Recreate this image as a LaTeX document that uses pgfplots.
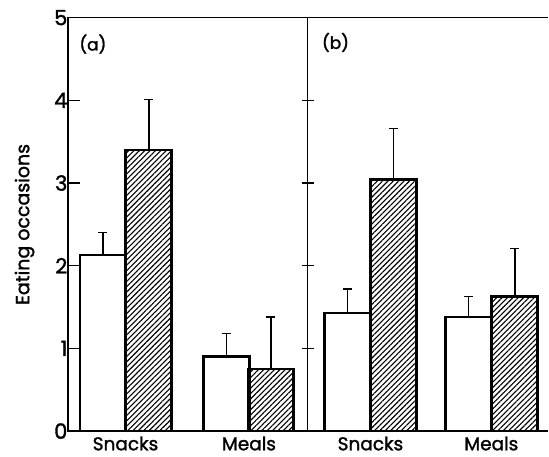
\documentclass[border=0pt]{standalone}
\usepackage{fontspec}
\setmainfont{Poppins}[FakeBold=1.5]
\usepackage{pgfplots}
\pgfplotsset{compat=1.18}
\usetikzlibrary{patterns.meta}
\begin{document}
\begin{tikzpicture}[x=1pt,y=1pt]
\path (-68,-25.3) rectangle (481,431.7);
\pgfplotsset{
  panel/.style={
    scale only axis, width=240pt, height=414pt,
    xmin=0, xmax=240, ymin=0, ymax=5,
    ybar, bar width=46, bar shift=0pt,
    tick style={black, line width=1.4pt},
    major tick length=12pt,
    ytick={0,1,2,3,4,5},
    tick align=inside,
    ytick pos=left,
    xtick style={draw=none},
    axis line style={line width=1.6pt, -},
    clip=false,
    xticklabel style={font=\fontsize{18.5}{18.5}\selectfont, yshift=-2pt},
    yticklabel style={font=\fontsize{21}{21}\selectfont, xshift=3pt},
    /pgf/number format/assume math mode=true,
    error bars/y dir=plus, error bars/y explicit,
    error bars/error bar style={line width=1.5pt, black},
    error bars/error mark options={rotate=90, mark size=4.5pt, line width=1.5pt},
  },
  whitebar/.style={draw=black, fill=white, line width=2.4pt},
  hatchbar/.style={draw=black, line width=2.8pt,
    pattern={Lines[angle=45, distance=3.8pt, line width=1.1pt]}},
}
\begin{axis}[panel, at={(0,0)}, anchor=origin,
  xtick={57.7,181.3}, xticklabels={Snacks,Meals},
  yticklabels={0,1,2,3,4,5},
  ylabel={Eating occasions},
  ylabel style={font=\fontsize{19}{19}\selectfont, yshift=13pt},
]
\addplot[whitebar] coordinates {(35,2.13) +- (0,0.27) (158.7,0.90) +- (0,0.28)};
\addplot[hatchbar] coordinates {(81,3.40) +- (0,0.61) (203.3,0.75) +- (0,0.63)};
\node[anchor=west, font=\fontsize{17}{17}\selectfont] at (axis cs:8,4.68) {(a)};
\draw[line width=1.6pt] (axis cs:0,5) -- (axis cs:240,5);
\end{axis}
\begin{axis}[panel, at={(240pt,0)}, anchor=origin, width=241pt, xmax=241,
  axis x line=box, axis y line=left,
  y axis line style={-}, x axis line style={-},
  xtick={63,184}, xticklabels={Snacks,Meals},
  yticklabels={},
]
\addplot[whitebar] coordinates {(40,1.43) +- (0,0.29) (161.2,1.38) +- (0,0.25)};
\addplot[hatchbar] coordinates {(86,3.04) +- (0,0.62) (207.5,1.63) +- (0,0.58)};
\node[anchor=west, font=\fontsize{17}{17}\selectfont] at (axis cs:11,4.70) {(b)};
\draw[line width=1.6pt] (axis cs:0,5) -- (axis cs:241,5);
\end{axis}
\end{tikzpicture}
\end{document}
